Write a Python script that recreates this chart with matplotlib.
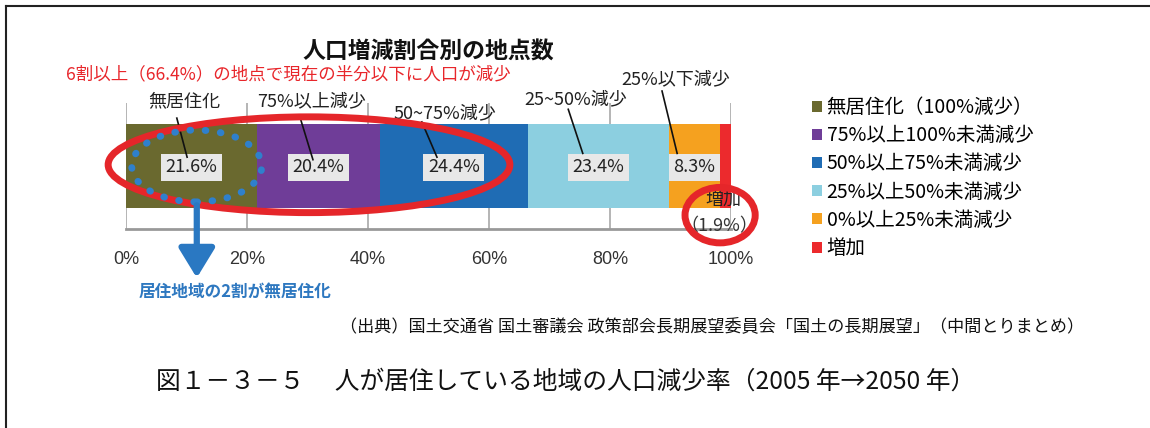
import matplotlib
matplotlib.use("Agg")
import matplotlib.pyplot as plt
from matplotlib.patches import Ellipse, Patch
from matplotlib.lines import Line2D

plt.rcParams['font.family'] = ['Noto Sans CJK JP', 'DejaVu Sans']

# data
categories = ["無居住化（100%減少）", "75%以上100%未満減少", "50%以上75%未満減少",
              "25%以上50%未満減少", "0%以上25%未満減少", "増加"]
shares = [21.6, 20.4, 24.4, 23.4, 8.3, 1.9]
colors = ["#6a692f", "#6f3d98", "#1f6cb4", "#8ccfe0", "#f5a11f", "#ec2a2d"]
short_labels = ["無居住化", "75%以上減少", "50~75%減少", "25~50%減少", "25%以下減少"]
tick_vals = [0, 20, 40, 60, 80, 100]
tick_labels = ["0%", "20%", "40%", "60%", "80%", "100%"]

W, H = 1150, 428
fig = plt.figure(figsize=(W / 100, H / 100), dpi=100)
ax = fig.add_axes([126 / W, 1 - 229 / H, 605 / W, 126 / H])
ax.set_xlim(0, 100)
ax.set_ylim(0, 1)

# stacked horizontal bar
left = 0
centers = []
for val, col in zip(shares, colors):
    ax.barh(0.5, val, left=left, height=0.66, color=col, zorder=2)
    centers.append(left + val / 2)
    left += val

for v in tick_vals:
    ax.axvline(v, color="#a8a8a8", lw=1.2, zorder=1)
for s in ["top", "left", "right"]:
    ax.spines[s].set_visible(False)
ax.spines["bottom"].set_color("#999999")
ax.spines["bottom"].set_linewidth(2)
ax.set_yticks([])
ax.set_xticks(tick_vals)
ax.set_xticklabels(tick_labels, fontsize=13, color="#333333", family="Liberation Sans")
ax.tick_params(axis="x", length=0, pad=16)

# value boxes
for c, val in zip(centers[:5], shares[:5]):
    ax.text(c, 0.49, f"{val}%", ha="center", va="center", fontsize=13, color="#222222",
            bbox=dict(boxstyle="square,pad=0.25", fc="#e8e8e8", ec="none"), zorder=4)

# category labels with leaders
label_pos = [(9.6, 1.01), (30.6, 1.01), (52.7, 0.92), (74.4, 1.03), (90.9, 1.19)]
leaders = [((8.4, 0.88), (10.1, 0.57)), ((28.9, 0.865), (30.9, 0.55)),
           ((48.9, 0.85), (51.4, 0.57)), ((73.1, 0.95), (75.5, 0.60)),
           ((88.6, 1.095), (91.1, 0.60))]
for txt, (lx, ly), (p0, p1) in zip(short_labels, label_pos, leaders):
    ax.text(lx, ly, txt, ha="center", va="center", fontsize=13, color="#222222",
            clip_on=False, zorder=5)
    ax.plot([p0[0], p1[0]], [p0[1], p1[1]], color="#111111", lw=1.2,
            clip_on=False, zorder=5)

ax.text(98.7, 0.23, "増加", ha="center", va="center", fontsize=13, color="#222222",
        clip_on=False, zorder=5)
ax.text(98.0, 0.02, "（1.9%）", ha="center", va="center", fontsize=13, color="#333333",
        clip_on=False, zorder=5)

# annotation shapes
ax.add_patch(Ellipse((30.25, 0.51), 66.4, 0.76, fill=False, ec="#e5262a", lw=5,
                     clip_on=False, zorder=6))
ax.add_patch(Ellipse((11.7, 0.5), 21.5, 0.57, fill=False, ec="#2f80cc", lw=5,
                     ls=(0, (0.1, 2.1)), capstyle="round", clip_on=False, zorder=6))
ax.add_patch(Ellipse((98.2, 0.11), 11.6, 0.44, fill=False, ec="#e5262a", lw=5,
                     clip_on=False, zorder=6))
ax.annotate("", xy=(11.7, -0.41), xytext=(11.7, 0.21), xycoords="data",
            arrowprops=dict(arrowstyle="-|>,head_width=0.55,head_length=0.9",
                            mutation_scale=20, lw=4.5, color="#2a78c2"),
            annotation_clip=False, zorder=6)
ax.text(18.0, -0.5, "居住地域の2割が無居住化", ha="center", va="center", fontsize=12,
        fontweight="bold", color="#2e78c0", clip_on=False)

# titles
fig.text(428 / W, 1 - 52 / H, "人口増減割合別の地点数", ha="center", va="center",
         fontsize=16.5, fontweight="bold", color="#111111")
fig.text(288 / W, 1 - 74 / H, "6割以上（66.4%）の地点で現在の半分以下に人口が減少",
         ha="center", va="center", fontsize=12.6, color="#e8262b")

# legend
handles = [Patch(facecolor=c, edgecolor="none") for c in colors]
fig.legend(handles, categories, loc="upper left", bbox_to_anchor=(812 / W, 1 - 97 / H),
           frameon=False, fontsize=14, handlelength=0.5, handleheight=0.5,
           handletextpad=0.25, labelspacing=0.37, borderpad=0, borderaxespad=0)

# source and caption
fig.text(712 / W, 1 - 327 / H,
         "（出典）国土交通省 国土審議会 政策部会長期展望委員会「国土の長期展望」（中間とりまとめ）",
         ha="center", va="center", fontsize=12.3, color="#111111")
fig.text(566 / W, 1 - 382 / H,
         "図１－３－５　 人が居住している地域の人口減少率（2005 年→2050 年）",
         ha="center", va="center", fontsize=17.8, color="#111111")

# page border (left and top)
fig.add_artist(Line2D([6 / W, 6 / W], [0, 1 - 6 / H], color="#222222", lw=1.5))
fig.add_artist(Line2D([6 / W, 1], [1 - 6 / H, 1 - 6 / H], color="#222222", lw=1.5))

fig.savefig("out.png", dpi=100)
